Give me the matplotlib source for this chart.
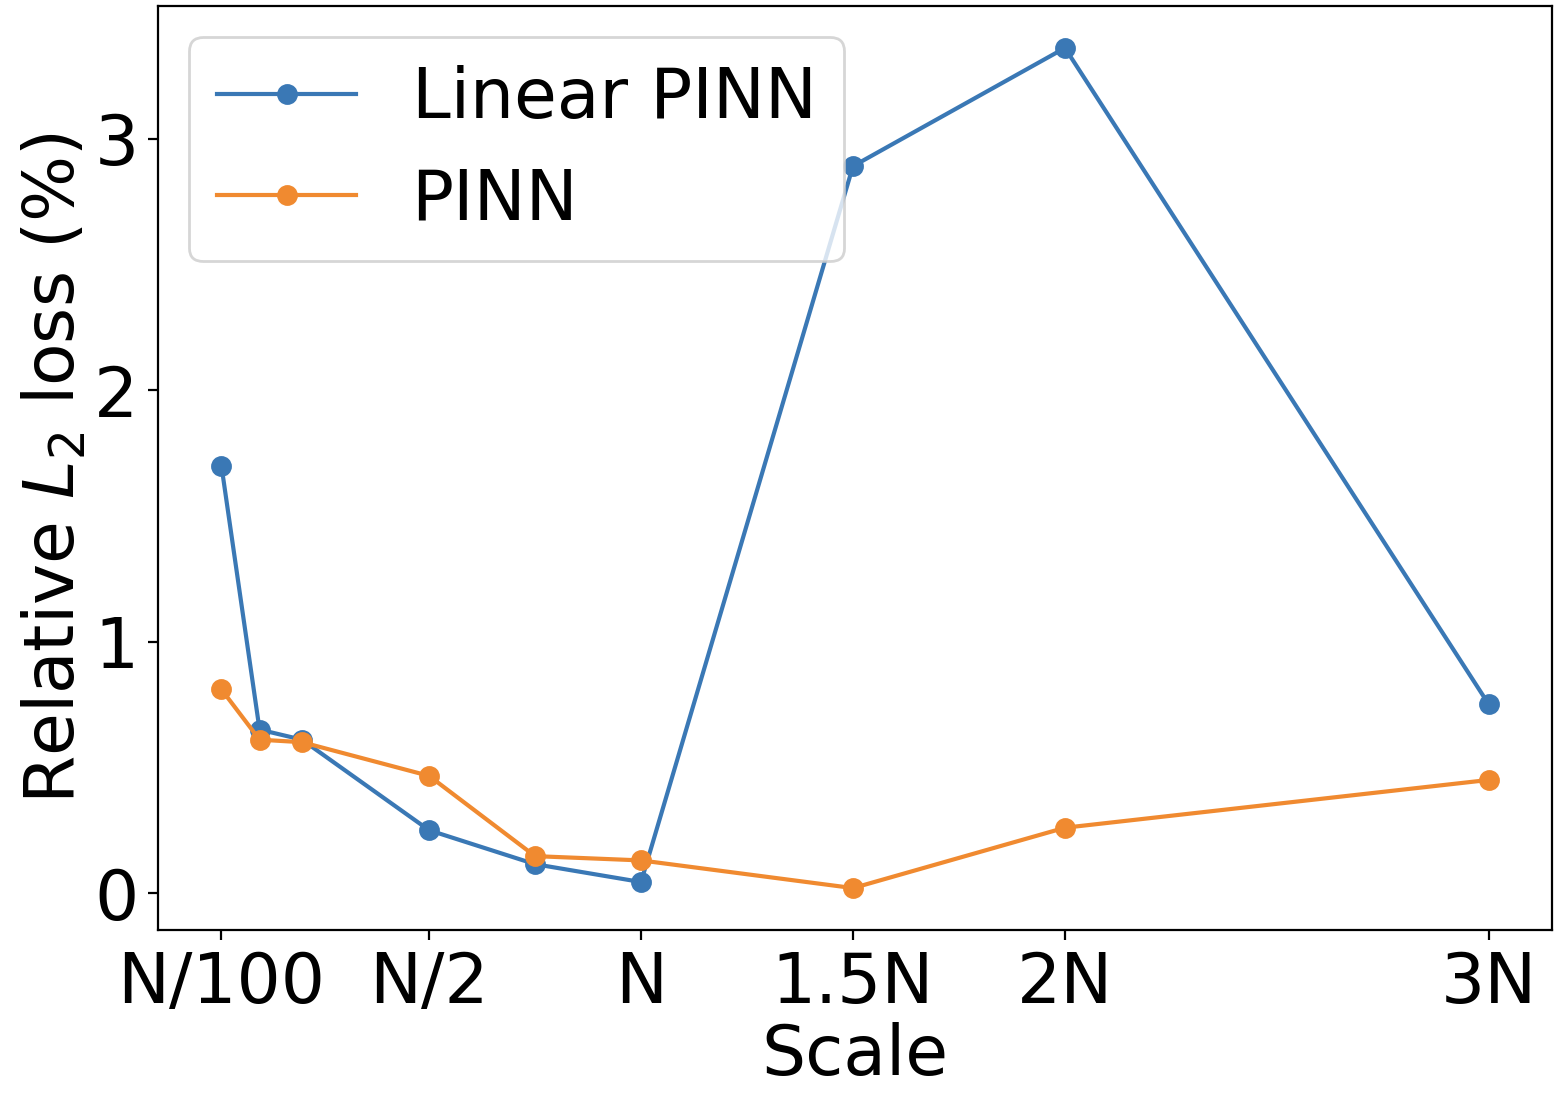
import matplotlib
matplotlib.use("Agg")
import matplotlib.pyplot as plt

scales = [0.01, 0.1, 0.2, 0.5, 0.75, 1.0, 1.5, 2.0, 3.0]
linear_pinn = [1.70, 0.65, 0.61, 0.25, 0.115, 0.044, 2.89, 3.36, 0.75]
pinn = [0.81, 0.61, 0.60, 0.466, 0.147, 0.13, 0.02, 0.26, 0.45]
tick_pos = [0.01, 0.5, 1.0, 1.5, 2.0, 3.0]
tick_labels = ["N/100", "N/2", "N", "1.5N", "2N", "3N"]

fig = plt.figure(figsize=(7.8, 5.51), dpi=200)
ax = fig.add_axes([0.1013, 0.156, 0.8937, 0.8386])
ax.plot(scales, linear_pinn, marker='o', color='#3a78b5', label='Linear PINN', lw=1.5, ms=6.5)
ax.plot(scales, pinn, marker='o', color='#f08a30', label='PINN', lw=1.5, ms=6.5)
ax.set_xticks(tick_pos)
ax.set_xticklabels(tick_labels)
ax.set_yticks([0, 1, 2, 3])
ax.tick_params(labelsize=25)
ax.set_xlabel("Scale", fontsize=25, labelpad=2)
ax.set_ylabel("Relative $L_2$ loss (%)", fontsize=25, labelpad=2)
ax.legend(fontsize=25, loc='upper left', borderaxespad=0.45)
fig.savefig("out.png", dpi=200)
